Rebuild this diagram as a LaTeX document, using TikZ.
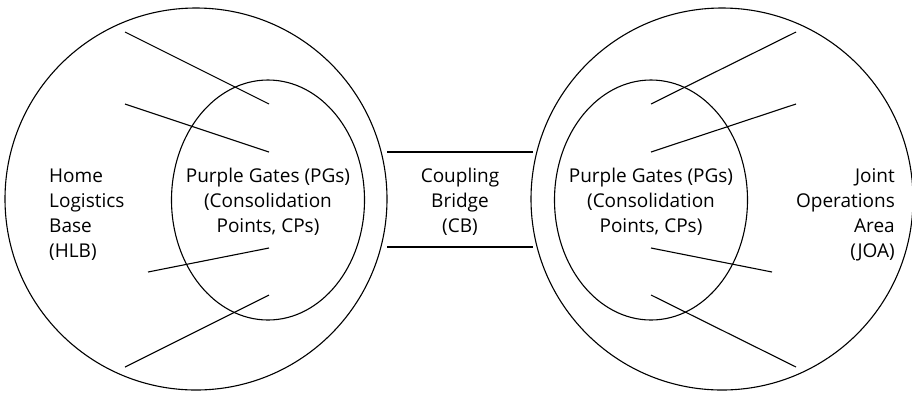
\documentclass[tikz,border=0pt]{standalone}
\usepackage{fontspec}
\setmainfont{Open Sans}
\usetikzlibrary{positioning,shapes.geometric}
\tikzstyle{area}=[circle, draw=black, line width=1.1pt, minimum size=382pt, inner sep=0pt]
\tikzstyle{gate}=[ellipse, draw=black, line width=1.1pt, minimum width=193pt, minimum height=240pt, inner sep=0pt]
\tikzstyle{lbl}=[font=\fontsize{19}{25}\selectfont, inner sep=0pt]
\tikzstyle{pline}=[-, line width=1.1pt]
\begin{document}
\begin{tikzpicture}[x=1pt, y=-1pt]
\useasboundingbox (0,0) rectangle (912,392);
\node (HLB) [area] at (196,199) {};
\node (JOA) [area] at (722,199) {};
\node (PGL) [gate] at (268,200) {};
\node (PGR) [gate] at (651,200) {};
\node (HLBtxt) [lbl, align=left, anchor=west] at (49,215) {Home\\Logistics\\Base\\(HLB)};
\node (PGLtxt) [lbl, align=center] at (268,202) {Purple Gates (PGs)\\(Consolidation\\Points, CPs)};
\node (CBtxt) [lbl, align=center] at (460,202) {Coupling\\Bridge\\(CB)};
\node (PGRtxt) [lbl, align=center] at (651,202) {Purple Gates (PGs)\\(Consolidation\\Points, CPs)};
\node (JOAtxt) [lbl, align=right, anchor=east] at (895,215) {Joint\\Operations\\Area\\(JOA)};
% spokes, left side
\coordinate (la1) at (125,32);  \coordinate (lb1) at (269,104);
\coordinate (la2) at (125,104); \coordinate (lb2) at (269,152);
\coordinate (la3) at (148,272); \coordinate (lb3) at (269,248);
\coordinate (la4) at (125,367); \coordinate (lb4) at (269,295);
% spokes, right side
\coordinate (ra1) at (796,32);  \coordinate (rb1) at (651,104);
\coordinate (ra2) at (796,104); \coordinate (rb2) at (651,152);
\coordinate (ra3) at (772,272); \coordinate (rb3) at (651,248);
\coordinate (ra4) at (796,367); \coordinate (rb4) at (651,295);
\foreach \i in {1,...,4} {
 \draw[pline] (la\i) -- (lb\i);
 \draw[pline] (ra\i) -- (rb\i);
}
% coupling bridge
\coordinate (cbtl) at (387,152); \coordinate (cbtr) at (533,152);
\coordinate (cbbl) at (387,247); \coordinate (cbbr) at (533,247);
\draw[pline] (cbtl) -- (cbtr);
\draw[pline] (cbbl) -- (cbbr);
\end{tikzpicture}
\end{document}
